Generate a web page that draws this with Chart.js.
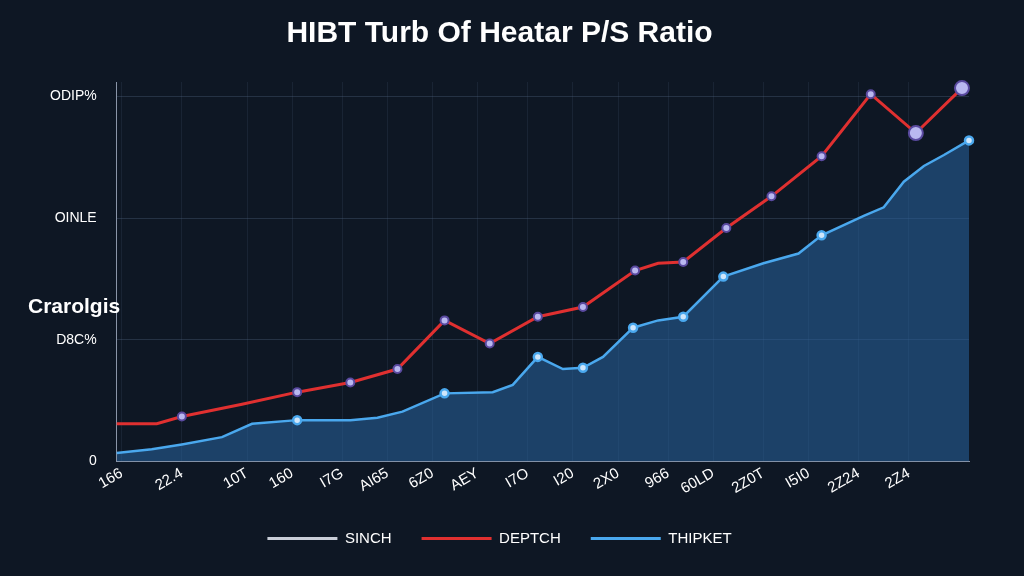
<!DOCTYPE html><html><head><style>html,body{margin:0;background:#0e1724;}#w{width:1024px;height:576px;position:relative}</style>
<script src="https://cdn.jsdelivr.net/npm/chart.js"></script></head><body><div id="w"><canvas id="c" width="1024" height="576"></canvas></div><script>
const title="HIBT Turb Of Heatar P/S Ratio";
const xTickPos=[5,65,130,175,225,270,315,360,410,455,500,550,595,645,690,740,790];
const xTickLabels=["166","22.4","10T","160","I7G","AI65","6Z0","AEY","I7O","I20","2X0","966","60LD","2Z0T","I5I0","2Z24","2Z4"];
const yTickVals=[0,100,200,300];
const yTickLabels=["0","D8C%","OINLE","ODIP%"];
const redX=[0,40,65,125,180,233,280,327,372,420,465,517,540,565,608,653,703,752,797,843];
const redY=[31,31,37,47,57,65,76,116,97,119,127,157,163,164,192,218,251,302,270,307];
const redMarked=[2,4,5,6,7,8,9,10,11,13,14,15,16,17,18,19];
const blueX=[0,35,65,105,135,180,233,260,285,327,375,395,420,445,465,485,515,540,565,605,645,680,703,745,765,785,805,825,850];
const blueY=[7,10,14,20,31,34,34,36,41,56,57,63,86,76,77,86,110,116,119,152,163,171,186,202,209,230,243,252,264];
const blueMarked=[5,9,12,14,16,18,19,22,28];
const mk=(arr,n)=>arr.map((_,i)=>n.includes(i)?(i>=18&&arr.length===20?7:4):0);
const legendColors=['#c9ced8','#e03030','#4aa8ee'];
const hov={id:'h',afterDraw(c){const x=c.ctx;x.save();x.fillStyle='#fff';x.font='bold 21px "Liberation Sans",Arial';x.textAlign='left';x.textBaseline='middle';x.fillText('Crarolgis',28,307);x.restore();}};
new Chart(document.getElementById('c'),{type:'line',data:{datasets:[
{label:'SINCH',data:[],borderColor:'#c9ced8',backgroundColor:'#c9ced8',borderWidth:3},
{label:'DEPTCH',data:redX.map((x,i)=>({x,y:redY[i]})),borderColor:'#e03030',borderWidth:3,pointRadius:mk(redX,redMarked),pointBackgroundColor:'#b9b8f0',pointBorderColor:'#5a4aa0',pointBorderWidth:2,tension:0,clip:false},
{label:'THIPKET',data:blueX.map((x,i)=>({x,y:blueY[i]})),borderColor:'#4aa8ee',borderWidth:2.5,fill:'origin',backgroundColor:'rgba(40,100,160,0.55)',pointRadius:mk(blueX,blueMarked),pointBackgroundColor:'#cfe6fb',pointBorderColor:'#4aa8ee',tension:0,clip:false}]},
options:{responsive:false,animation:false,layout:{padding:{left:30,right:55,top:6,bottom:20}},
plugins:{title:{display:true,text:title,color:'#fff',font:{size:30,weight:'bold',family:'"Liberation Sans",Arial'},padding:{top:10,bottom:30}},
legend:{position:'bottom',labels:{color:'#fff',font:{size:15},usePointStyle:true,pointStyle:'line',pointStyleWidth:70,boxHeight:3,padding:30,
generateLabels:ch=>ch.data.datasets.map((d,i)=>({text:d.label,fillStyle:legendColors[i],strokeStyle:legendColors[i],lineWidth:3,pointStyle:'line',fontColor:'#fff',datasetIndex:i}))}}},
scales:{x:{type:'linear',min:0,max:850,afterBuildTicks:a=>{a.ticks=xTickPos.map(v=>({value:v}))},ticks:{color:'#fff',font:{size:15},maxRotation:30,minRotation:30,autoSkip:false,callback:(v)=>xTickLabels[xTickPos.indexOf(v)]},grid:{color:'rgba(80,100,130,0.18)',drawTicks:false},border:{color:'#8a95a8'}},
y:{min:0,max:312,afterBuildTicks:a=>{a.ticks=yTickVals.map(v=>({value:v}))},ticks:{color:'#fff',font:{size:14},padding:20,callback:v=>yTickLabels[yTickVals.indexOf(v)]},grid:{color:'rgba(80,100,130,0.35)',drawTicks:false},border:{color:'#8a95a8'}}}},
plugins:[hov]});
</script></body></html>
